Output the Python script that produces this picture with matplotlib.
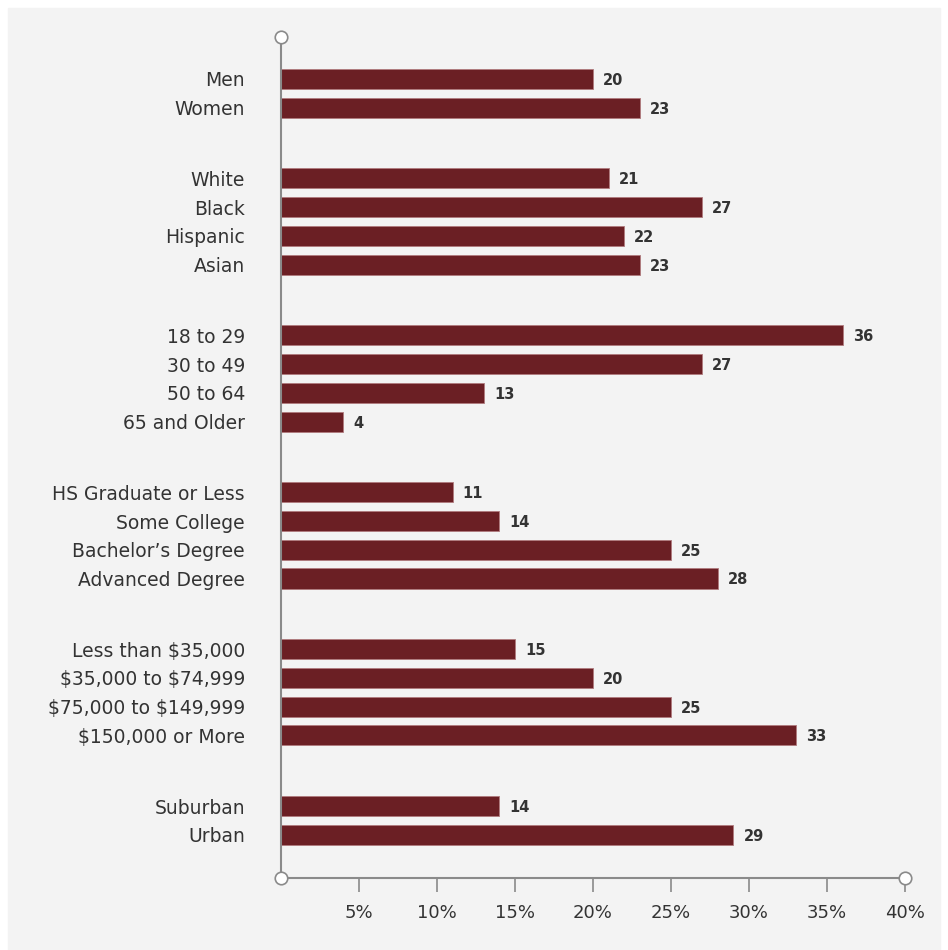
import numpy as np
import matplotlib.pyplot as plt
from matplotlib.patches import Rectangle

groups = [
    ['Men', 'Women'],
    ['White', 'Black', 'Hispanic', 'Asian'],
    ['18 to 29', '30 to 49', '50 to 64', '65 and Older'],
    ['HS Graduate or Less', 'Some College', 'Bachelor\u2019s Degree', 'Advanced Degree'],
    ['Less than \\$35,000', '\\$35,000 to \\$74,999', '\\$75,000 to \\$149,999', '\\$150,000 or More'],
    ['Suburban', 'Urban'],
]
values = [
    [20, 23],
    [21, 27, 22, 23],
    [36, 27, 13, 4],
    [11, 14, 25, 28],
    [15, 20, 25, 33],
    [14, 29],
]
xticks = [5, 10, 15, 20, 25, 30, 35, 40]

plt.rcParams['font.family'] = ['DejaVu Sans']
bar_color = '#6b1f24'
axis_color = '#8a8a8a'
text_color = '#333333'

# y positions: step 1 within group, bigger step between groups
gap = 2.46
labels, vals, ypos = [], [], []
y = 0.0
for gi, (g, v) in enumerate(zip(groups, values)):
    if gi > 0:
        y += gap - 1
    for lab, val in zip(g, v):
        labels.append(lab)
        vals.append(val)
        ypos.append(y)
        y += 1
ypos = np.array(ypos)

fig = plt.figure(figsize=(9.48, 9.5), dpi=100)
fig.patches.append(Rectangle((8 / 948, 0 / 950), 932 / 948, 942 / 950,
                             transform=fig.transFigure, color='#f3f3f3', zorder=-10))
ax = fig.add_axes([281 / 948, 1 - 878 / 950, 624 / 948, 841 / 950])
ax.patch.set_alpha(0)

ax.barh(ypos, vals, height=0.7, color=bar_color, edgecolor='#b07a7d', linewidth=0.6, zorder=2)
for yy, v in zip(ypos, vals):
    ax.text(v + 0.65, yy + 0.05, str(v), va='center', ha='left', fontsize=10.5,
            fontweight='bold', color=text_color)

ax.set_xlim(0, 40)
ax.set_ylim(ypos[-1] + 1.5, ypos[0] - 1.46)
ax.set_yticks(ypos)
ax.set_yticklabels(labels, fontsize=13.5, color=text_color)
for lab in ax.get_yticklabels():
    lab.set_y(lab.get_position()[1])
ax.tick_params(axis='y', length=0, pad=26)
ax.set_xticks(xticks)
ax.set_xticklabels([f'{t}%' for t in xticks], fontsize=13, color=text_color)
ax.tick_params(axis='x', direction='out', length=10, width=1.2, color=axis_color, pad=9)

for s in ['top', 'right']:
    ax.spines[s].set_visible(False)
for s in ['left', 'bottom']:
    ax.spines[s].set_color(axis_color)
    ax.spines[s].set_linewidth(1.5)

ylo, yhi = ax.get_ylim()
ax.plot([0, 0, 40], [yhi, ylo, ylo], 'o', ms=9, mfc='white', mec=axis_color, mew=1.2,
        clip_on=False, zorder=5)

fig.savefig('out.png', dpi=100)
